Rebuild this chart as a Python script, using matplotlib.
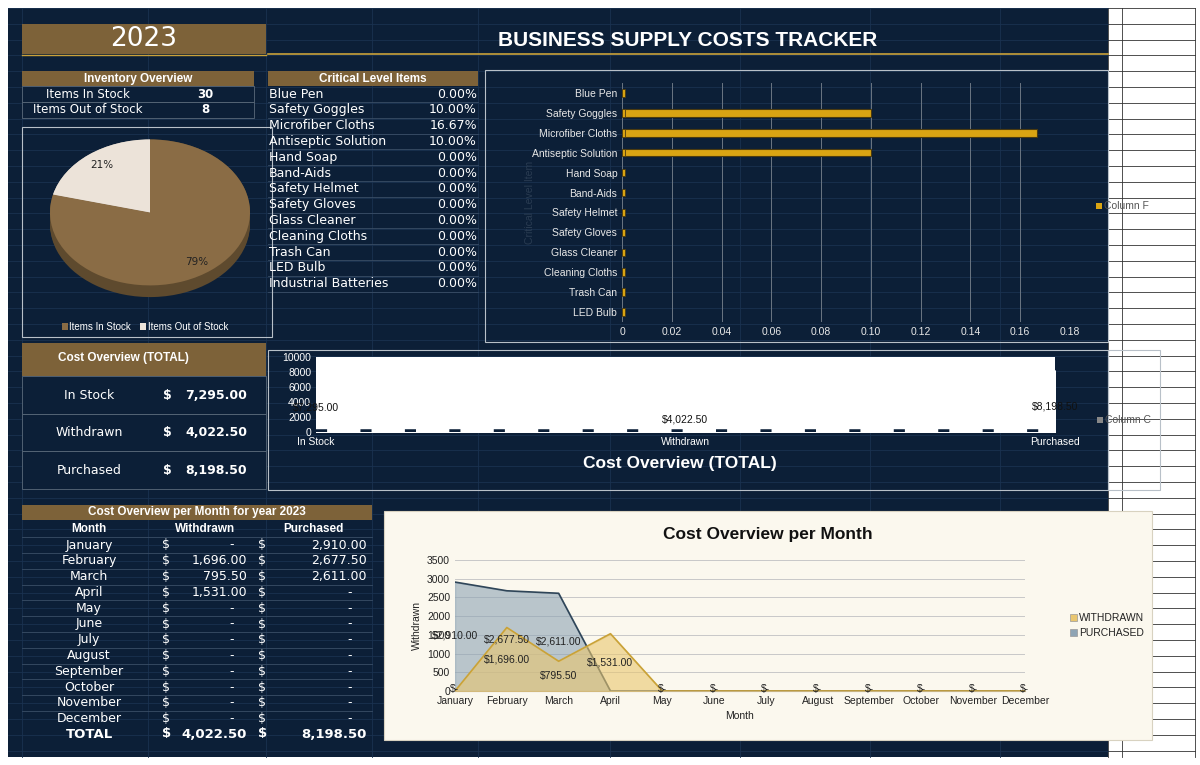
import matplotlib
matplotlib.use("Agg")
import matplotlib.pyplot as plt
from matplotlib.patches import Rectangle
import numpy as np

W, H = 1200, 765
NAVY = "#0c1f37"
BROWN = "#7d6239"
GOLD = "#c9a13a"
WHITE = "white"
ARIAL = "Liberation Sans"

# ---------------- data ----------------
year = "2023"
inv_labels = ["Items In Stock", "Items Out of Stock"]
inv_values = [30, 8]

crit_items = ["Blue Pen", "Safety Goggles", "Microfiber Cloths", "Antiseptic Solution", "Hand Soap",
              "Band-Aids", "Safety Helmet", "Safety Gloves", "Glass Cleaner", "Cleaning Cloths",
              "Trash Can", "LED Bulb", "Industrial Batteries"]
crit_values = [0.0, 0.10, 0.1667, 0.10, 0, 0, 0, 0, 0, 0, 0, 0, 0]

cost_cats = ["In Stock", "Withdrawn", "Purchased"]
cost_values = [7295.00, 4022.50, 8198.50]

months = ["January", "February", "March", "April", "May", "June", "July", "August",
          "September", "October", "November", "December"]
withdrawn = [0, 1696.00, 795.50, 1531.00, 0, 0, 0, 0, 0, 0, 0, 0]
purchased = [2910.00, 2677.50, 2611.00, 0, 0, 0, 0, 0, 0, 0, 0, 0]

fig = plt.figure(figsize=(12, 7.65), dpi=100)
fig.patch.set_facecolor("white")
bg = fig.add_axes([0, 0, 1, 1])
bg.set_xlim(0, W); bg.set_ylim(H, 0); bg.axis("off")

def ax_at(x0, y0, x1, y1):
    return fig.add_axes([x0 / W, 1 - y1 / H, (x1 - x0) / W, (y1 - y0) / H])

def rect(x0, y0, x1, y1, fc, ec="none", lw=1, z=1):
    bg.add_patch(Rectangle((x0, y0), x1 - x0, y1 - y0, fc=fc, ec=ec, lw=lw, zorder=z))

def txt(x, y, s, **kw):
    kw.setdefault("color", WHITE); kw.setdefault("fontsize", 8.5)
    kw.setdefault("va", "center")
    bg.text(x, y, s, zorder=5, **kw)

# spreadsheet background
rect(8, 8, 1108, 757, NAVY)
for yy in np.arange(8, 760, 15.8):
    bg.plot([1108, 1195], [yy, yy], color="#333333", lw=0.6, zorder=1)
for xx in [1108, 1122, 1195]:
    bg.plot([xx, xx], [8, 757], color="#333333", lw=0.6, zorder=1)
for yy in np.arange(8, 757, 15.8):
    bg.plot([8, 1108], [yy, yy], color="#1a3250", lw=0.6, zorder=1)
for xx in [22, 148, 266, 372, 478, 610, 740, 870, 1000]:
    bg.plot([xx, xx], [8, 757], color="#1a3250", lw=0.6, zorder=1)

# year box & title
rect(22, 24, 266, 54, BROWN, z=2)
txt(144, 39, year, fontsize=19, ha="center")
txt(688, 40, "BUSINESS SUPPLY COSTS TRACKER", fontsize=15, weight="bold", ha="center", family=ARIAL)
bg.plot([268, 1108], [54, 54], color=GOLD, lw=1.2, zorder=3)
bg.plot([22, 266], [55, 55], color=GOLD, lw=1.0, zorder=3)

# inventory overview
rect(22, 71, 254, 86, BROWN, z=2)
txt(138, 78.5, "Inventory Overview", weight="bold", ha="center", family=ARIAL)
for i, (l, v) in enumerate(zip(inv_labels, inv_values)):
    y = 94 + i * 15.8
    rect(22, y - 7.9, 254, y + 7.9, NAVY, ec="#5a6a7a", lw=0.6, z=2)
    txt(88, y, l, ha="center")
    txt(205, y, str(v), ha="center", weight="bold")

# critical level items table
rect(268, 71, 478, 86, BROWN, z=2)
txt(373, 78.5, "Critical Level Items", weight="bold", ha="center", family=ARIAL)
for i, (l, v) in enumerate(zip(crit_items, crit_values)):
    y = 94 + i * 15.8
    bg.plot([268, 478], [y + 7.9, y + 7.9], color="#3a4e66", lw=0.6, zorder=2)
    txt(269, y, l, fontsize=9)
    txt(477, y, f"{v*100:.2f}%", ha="right", fontsize=9)

# cost overview total table
rect(22, 343, 266, 376, BROWN, z=2)
txt(123, 358, "Cost Overview (TOTAL)", weight="bold", ha="center", family=ARIAL)
for i, (l, v) in enumerate(zip(cost_cats, cost_values)):
    y = 395 + i * 37.5
    rect(22, y - 18.7, 266, y + 18.7, NAVY, ec="#5a6a7a", lw=0.6, z=2)
    txt(89, y, l, ha="center", fontsize=9)
    txt(163, y, "$", weight="bold", fontsize=9)
    txt(247, y, f"{v:,.2f}", ha="right", weight="bold", fontsize=9)

# monthly table
rect(22, 505, 372, 520, BROWN, z=2)
txt(197, 512.5, "Cost Overview per Month for year 2023", weight="bold", ha="center", family=ARIAL)
txt(89, 529, "Month", weight="bold", ha="center", family=ARIAL)
txt(205, 529, "Withdrawn", weight="bold", ha="center", family=ARIAL)
txt(313, 529, "Purchased", weight="bold", ha="center", family=ARIAL)
for i, m in enumerate(months):
    y = 545 + i * 15.8
    bg.plot([22, 372], [y - 7.9, y - 7.9], color="#3a4e66", lw=0.6, zorder=2)
    txt(89, y, m, ha="center", fontsize=9)
    txt(162, y, "$", fontsize=9)
    if withdrawn[i]:
        txt(247, y, f"{withdrawn[i]:,.2f}", ha="right", fontsize=9)
    else:
        txt(232, y, "-", ha="center", fontsize=9)
    txt(258, y, "$", fontsize=9)
    if purchased[i]:
        txt(367, y, f"{purchased[i]:,.2f}", ha="right", fontsize=9)
    else:
        txt(350, y, "-", ha="center", fontsize=9)
y = 734
txt(89, y, "TOTAL", weight="bold", ha="center", fontsize=9.5)
txt(162, y, "$", weight="bold", fontsize=9.5)
txt(247, y, f"{sum(withdrawn):,.2f}", ha="right", weight="bold", fontsize=9.5)
txt(258, y, "$", weight="bold", fontsize=9.5)
txt(367, y, f"{sum(purchased):,.2f}", ha="right", weight="bold", fontsize=9.5)

# ---------------- pie ----------------
rect(22, 127, 272, 337, "none", ec="#b8c0c8", lw=0.8, z=3)
pax = ax_at(48, 138, 252, 300)
pax.set_facecolor("none")
pax.axis("off")
pie_colors = ["#8a6c45", "#ece3d9"]
for dz in np.linspace(0.16, 0, 10):
    pax.pie(inv_values, colors=["#5e4a2e", "#b9b0a6"], startangle=90, counterclock=False,
            center=(0, -dz), radius=1, wedgeprops=dict(lw=0))
pax.pie(inv_values, colors=pie_colors, startangle=90, counterclock=False,
        wedgeprops=dict(lw=0))
pax.set_aspect("auto")
pax.set_xlim(-1.02, 1.02); pax.set_ylim(-1.2, 1.02)
pct = [v / sum(inv_values) * 100 for v in inv_values]
pax.text(0.47, -0.68, f"{pct[0]:.0f}%", color="#222222", fontsize=7.5, ha="center", va="center")
pax.text(-0.48, 0.65, f"{pct[1]:.0f}%", color="#222222", fontsize=7.5, ha="center", va="center")
rect(62, 323, 68, 330, pie_colors[0], z=4)
txt(69, 327, inv_labels[0], fontsize=7, family=ARIAL)
rect(140, 323, 146, 330, pie_colors[1], z=4)
txt(148, 327, inv_labels[1], fontsize=7, family=ARIAL)

# ---------------- critical bar chart ----------------
rect(485, 70, 1108, 342, "none", ec="#b8c0c8", lw=0.8, z=3)
bax = ax_at(622, 83, 1070, 322)
bax.set_facecolor("none")
n = 12
yy = np.arange(n)
bax.barh(yy, crit_values[:n], height=0.38, color="#d9a413", edgecolor="#4a3a10", lw=0.8, zorder=3)
bax.barh(yy, [0.0012] * n, height=0.38, color="#d9a413", edgecolor="#4a3a10", lw=0.6, zorder=3)
bax.set_ylim(n - 0.5, -0.5)
bax.set_yticks(yy, crit_items[:n], family=ARIAL)
bax.set_xlim(0, 0.18)
bax.set_xticks(np.arange(0, 0.181, 0.02), ["0"] + [f"{v:.2f}" for v in np.arange(0.02, 0.181, 0.02)], family=ARIAL)
bax.tick_params(colors="#e8e8e8", labelsize=7.5, length=0)
bax.grid(axis="x", color="#6b7683", lw=0.7)
for s in bax.spines.values():
    s.set_visible(False)
bax.set_ylabel("Critical Level Item", color="#2a3c52", fontsize=7.5, labelpad=-2, family=ARIAL)
rect(1096, 203, 1102, 209, "#d9a413", z=4)
txt(1104, 206, "Column F", fontsize=7.5, color="#555555", family=ARIAL)

# ---------------- cost total chart ----------------
rect(268, 350, 1108, 490, "none", ec="#b8c0c8", lw=0.8, z=3)
rect(1108, 350, 1160, 490, "none", ec="#b8c0c8", lw=0.8, z=3)
cax = ax_at(316, 357, 1055, 432)
cax.set_facecolor("white")
xc = np.arange(len(cost_cats))
cax.fill_between(xc, cost_values, color="white")
cax.set_xlim(0, 2); cax.set_ylim(0, 10000)
cax.set_yticks(np.arange(0, 10001, 2000))
cax.set_xticks(xc, cost_cats, family=ARIAL)
for lab in cax.get_yticklabels():
    lab.set_family(ARIAL)
cax.tick_params(colors="white", labelsize=7.5, length=0)
cax.axhline(0, color=NAVY, lw=4, ls=(0, (2, 6)))
for s in cax.spines.values():
    s.set_visible(False)
for x, v, yv in zip(xc, cost_values, [2800, 1200, 3000]):
    cax.text(x, yv, f"${v:,.2f}", ha="center", fontsize=7.5, color="#111111", family=ARIAL)
txt(680, 463, "Cost Overview (TOTAL)", fontsize=12.5, weight="bold", ha="center", family=ARIAL)
rect(1097, 417, 1103, 423, "#888888", z=4)
txt(1105, 420, "Column C", fontsize=7.5, color="#555555", family=ARIAL)

# ---------------- monthly area chart ----------------
rect(384, 511, 1152, 740, "#fbf8ee", ec="#d8d2c0", lw=0.8, z=2)
aax = ax_at(455, 560, 1025, 691)
aax.set_facecolor("none")
xm = np.arange(len(months))
aax.fill_between(xm, purchased, color="#8ea4b4", alpha=0.6, zorder=2)
aax.plot(xm, purchased, color="#2f4558", lw=1.2, zorder=3)
aax.fill_between(xm, withdrawn, color="#e9c66f", alpha=0.6, zorder=4)
aax.plot(xm, withdrawn, color="#c9a238", lw=1.2, zorder=5)
aax.set_xlim(0, 11); aax.set_ylim(0, 3500)
aax.set_yticks(np.arange(0, 3501, 500))
aax.set_xticks(xm, months, family=ARIAL)
for lab in aax.get_yticklabels():
    lab.set_family(ARIAL)
aax.tick_params(colors="#222222", labelsize=7.5, length=0)
aax.grid(axis="y", color="#c8c8c8", lw=0.7)
aax.set_axisbelow(True)
for s in ["top", "right", "left"]:
    aax.spines[s].set_visible(False)
aax.spines["bottom"].set_color("#999999")
w_lab_y = {1: 830, 2: 400, 3: 750}
p_lab_y = {0: 1470, 1: 1365, 2: 1310}
kw = dict(ha="center", va="center", fontsize=7.5, color="#222222", zorder=6, family=ARIAL)
for i in range(12):
    if withdrawn[i]:
        aax.text(i, w_lab_y[i], f"${withdrawn[i]:,.2f}", **kw)
    if purchased[i]:
        aax.text(i, p_lab_y[i], f"${purchased[i]:,.2f}", **kw)
    if not withdrawn[i] and not purchased[i]:
        aax.text(i, 60, "$-", **kw)
aax.text(0, 60, "$-", **kw)
aax.set_xlabel("Month", fontsize=7.5, color="#222222", family=ARIAL)
aax.set_ylabel("Withdrawn", fontsize=7.5, color="#222222", family=ARIAL)
txt(768, 535, "Cost Overview per Month", fontsize=12.5, weight="bold", ha="center", color="#111111", family=ARIAL)
rect(1070, 614, 1077, 621, "#e9c66f", ec="#999999", lw=0.5, z=4)
txt(1079, 618, "WITHDRAWN", fontsize=7.5, color="#222222", family=ARIAL)
rect(1070, 629, 1077, 636, "#8ea4b4", ec="#999999", lw=0.5, z=4)
txt(1079, 633, "PURCHASED", fontsize=7.5, color="#222222", family=ARIAL)

fig.savefig("out.png", dpi=100, facecolor=fig.get_facecolor())
